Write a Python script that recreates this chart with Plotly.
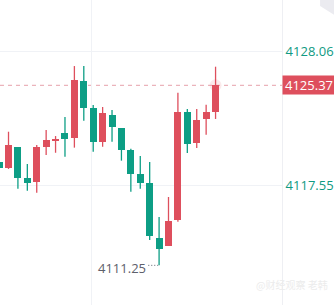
import plotly.graph_objects as go

# ---- data (index, open, high, low, close) ----
idx = list(range(24))
opens = [4119.38, 4118.91, 4120.53, 4118.10, 4117.81, 4120.55, 4121.02, 4121.63,
         4121.26, 4125.71, 4123.59, 4120.95, 4123.04, 4122.02, 4120.30, 4118.41,
         4117.71, 4113.39, 4112.79, 4114.81, 4123.30, 4120.87, 4122.73, 4123.28]
highs = [4119.60, 4121.73, 4120.53, 4119.20, 4120.69, 4121.86, 4121.39, 4122.88,
         4126.88, 4126.88, 4123.82, 4123.67, 4123.43, 4122.02, 4120.40, 4119.82,
         4119.35, 4115.04, 4116.61, 4124.79, 4123.51, 4123.51, 4123.85, 4126.83]
lows = [4118.60, 4118.81, 4117.26, 4117.10, 4116.95, 4119.90, 4120.08, 4119.77,
        4120.48, 4122.59, 4120.16, 4120.55, 4120.95, 4119.46, 4117.02, 4117.26,
        4113.24, 4111.25, 4112.79, 4114.67, 4120.06, 4120.45, 4121.50, 4122.73]
closes = [4118.91, 4120.69, 4118.12, 4117.73, 4120.53, 4121.08, 4121.18, 4121.16,
          4125.79, 4123.61, 4120.95, 4123.20, 4122.12, 4120.32, 4118.44, 4117.73,
          4113.57, 4112.53, 4114.73, 4123.30, 4120.77, 4122.65, 4123.28, 4125.37]
tick_vals = [4117.55, 4128.06]
tick_text = ["4117.55", "4128.06"]
last_price = 4125.37
low_price = 4111.25
low_index = 17

RED = "#de4f5d"
GREEN = "#0d9e85"

fig = go.Figure()

for col, up in ((RED, True), (GREEN, False)):
    wx, wy = [], []
    bx, bbase, bh = [], [], []
    for i, o, h, l, c in zip(idx, opens, highs, lows, closes):
        if (c >= o) != up:
            continue
        wx += [i, i, None]
        wy += [l, h, None]
        bx.append(i)
        bbase.append(min(o, c))
        bh.append(max(abs(c - o), 0.12))
    fig.add_trace(go.Scatter(x=wx, y=wy, mode="lines", line=dict(color=col, width=1.3),
                             hoverinfo="skip", showlegend=False))
    fig.add_trace(go.Bar(x=bx, y=bh, base=bbase, width=0.74, marker=dict(color=col, line=dict(width=0)),
                         showlegend=False))

# glow at last close
fig.add_trace(go.Scatter(x=[idx[-1]], y=[last_price], mode="markers",
                         marker=dict(color="rgba(222,79,93,0.12)", size=12, line=dict(width=0)),
                         showlegend=False, hoverinfo="skip"))

# last price dashed line
fig.add_shape(type="line", xref="paper", x0=0, x1=1, y0=last_price, y1=last_price,
              line=dict(color="#e7a1aa", width=1, dash="4px,4px"), layer="below")

# low marker dotted leader
fig.add_shape(type="line", x0=low_index - 1.15, x1=low_index - 0.1, y0=low_price, y1=low_price,
              line=dict(color="#5d606b", width=1, dash="1px,2px"))
fig.add_annotation(x=low_index - 1.2, y=low_price, text="4111.25", showarrow=False,
                   xanchor="right", yanchor="middle", yshift=-3,
                   font=dict(family="Open Sans", size=13, color="#5d606b"))

# price box
fig.add_annotation(xref="paper", x=1, y=last_price, text="4125.37", showarrow=False,
                   xanchor="left", yanchor="middle", width=50, height=16, borderpad=1,
                   bgcolor=RED, font=dict(family="Open Sans", size=13, color="white"))

# watermark
fig.add_annotation(xref="paper", yref="paper", x=1.17, y=0.035, text="@财经观察 老韩", showarrow=False,
                   xanchor="right", font=dict(family="Noto Sans CJK SC", size=10, color="#ececec"))

# top-right corner shape
fig.add_shape(type="path", xref="paper", yref="paper",
              path="M 1.135,1 L 1.185,1 L 1.185,0.951 L 1.135,0.98 Z",
              fillcolor="#ebebf0", line=dict(width=0))

fig.update_layout(
    width=334, height=305,
    margin=dict(l=0, r=52, t=0, b=0),
    paper_bgcolor="white", plot_bgcolor="white",
    barmode="overlay", showlegend=False, bargap=0,
    xaxis=dict(range=[0.096, 30.06], showticklabels=False, tickvals=[9.87],
               showgrid=True, gridcolor="#f0f2f6", gridwidth=1, zeroline=False, fixedrange=True),
    yaxis=dict(range=[4108.14, 4132.06], side="right", tickvals=tick_vals, ticktext=tick_text,
               showgrid=True, gridcolor="#f0f2f6", gridwidth=1, zeroline=False,
               showline=True, linecolor="#eeeff3", linewidth=1, ticks="",
               tickfont=dict(family="Open Sans", size=13, color="#0f9a82")),
)

fig.write_html("out.html")
